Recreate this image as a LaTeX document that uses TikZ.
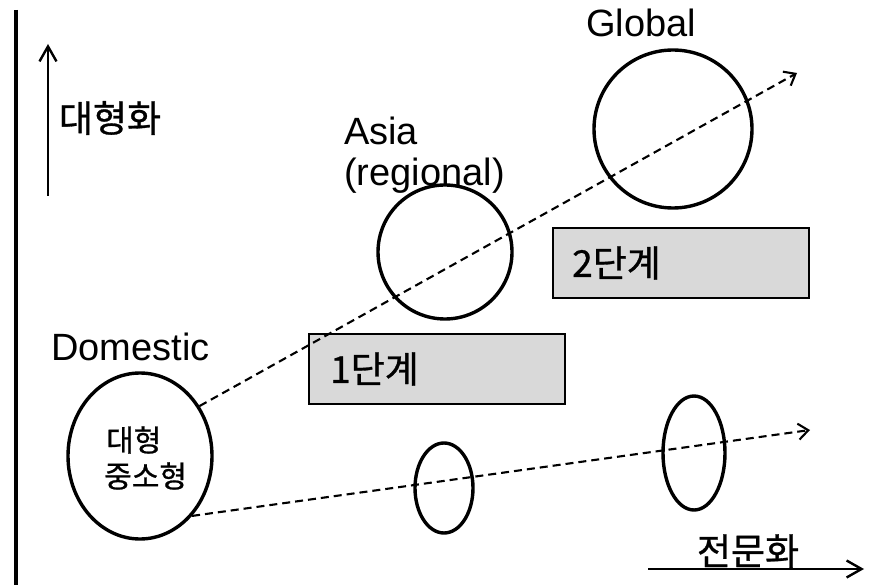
\documentclass[tikz,border=0pt]{standalone}
\usepackage{fontspec}
\setmainfont{Liberation Sans}
\newfontfamily\kr[FakeBold=0.8]{Noto Sans CJK KR}
\usetikzlibrary{shapes.geometric,arrows.meta}
\definecolor{boxgray}{HTML}{D9D9D9}
\tikzset{
  shapeline/.style={draw=black, line width=3.4pt, inner sep=0pt},
  oval/.style={shapeline, ellipse},
  ring/.style={shapeline, circle},
  stagebox/.style={draw=black, line width=2pt, fill=boxgray, inner sep=0pt, anchor=north west},
  bigtxt/.style={font=\fontsize{38}{42}\selectfont, inner sep=0pt},
  krtxt/.style={font=\kr\fontsize{37}{42}\selectfont, inner sep=0pt},
  smallkr/.style={font=\kr\fontsize{30}{34}\selectfont, inner sep=0pt, anchor=west},
  dashline/.style={line width=2.1pt, dash pattern=on 8pt off 5pt, -{Straight Barb[length=10pt,width=16pt,line width=2.1pt]}},
  axisarrow/.style={line width=2.4pt, -{Straight Barb[length=15pt,width=17pt]}}
}
\begin{document}
\begin{tikzpicture}[x=1pt,y=-1pt]
\useasboundingbox (0,0) rectangle (883,585);
% axes
\coordinate (vtop) at (16,10);
\coordinate (vbot) at (16,585);
\draw[line width=3.4pt] (vtop) -- (vbot);
\coordinate (upS) at (48,196);
\coordinate (upE) at (48,44);
\draw[axisarrow] (upS) -- (upE);
\node[krtxt] (big) at (110,118) {대형화};
\coordinate (rS) at (648,569);
\coordinate (rE) at (864,569);
\draw[axisarrow] (rS) -- (rE);
\node[krtxt] (spec) at (748,551) {전문화};
% shapes
\node[oval, minimum width=144pt, minimum height=166pt] (dom) at (140,456) {};
\node[smallkr] (d1) at (106,440) {대형};
\node[smallkr] (d2) at (104,476) {중소형};
\node[bigtxt, anchor=base west] (domtxt) at (51,360) {Domestic};
\node[ring, minimum size=134pt] (asia) at (445,252) {};
\node[bigtxt, anchor=base west] (asiatxt) at (344,145) {Asia};
\node[bigtxt, anchor=base west] (regtxt) at (344,186) {(regional)};
\node[ring, minimum size=158pt] (glob) at (673,129) {};
\node[bigtxt, anchor=base west] (globtxt) at (586,37) {Global};
\node[oval, minimum width=58pt, minimum height=90pt] (s1) at (444,488) {};
\node[oval, minimum width=62pt, minimum height=114pt] (s2) at (694,453) {};
% boxes
\node[stagebox, minimum width=256pt, minimum height=70pt] (b1) at (308,333) {};
\node[krtxt, anchor=west] (b1t) at ([xshift=22pt]b1.west) {1단계};
\node[stagebox, minimum width=256pt, minimum height=70pt] (b2) at (552,227) {};
\node[krtxt, anchor=west] (b2t) at ([xshift=20pt]b2.west) {2단계};
% dashed arrows
\coordinate (e1) at (797,73);
\coordinate (e2) at (810,430);
\draw[dashline] (dom.40) -- (e1);
\draw[dashline] (dom.-49) -- (e2);
\end{tikzpicture}
\end{document}
